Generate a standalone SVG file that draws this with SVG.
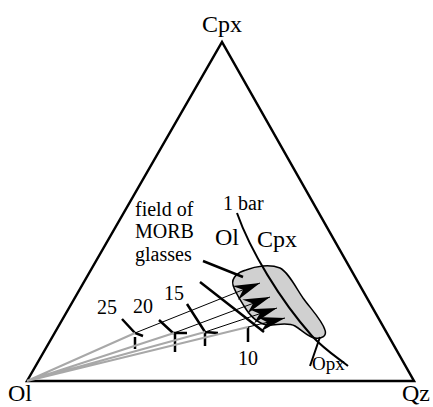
<svg xmlns="http://www.w3.org/2000/svg" width="433" height="407" viewBox="0 0 433 407">
<style>
text{font-family:"Liberation Serif","Times New Roman",serif;fill:#000}
.lbl{font-size:24px}
.txt{font-size:20px}
.num{font-size:20px}
.thick{fill:none;stroke:#000;stroke-width:2.5;stroke-linecap:butt}
.thin{fill:none;stroke:#000;stroke-width:1;marker-end:url(#ah)}
.gray{fill:none;stroke:#a8a8a8;stroke-width:2}
.tick{fill:none;stroke:#000;stroke-width:2.5}
</style>
<defs>
<marker id="ah" markerUnits="userSpaceOnUse" orient="auto" refX="0" refY="0" markerWidth="30" markerHeight="20" viewBox="-26 -9 28 18" overflow="visible">
<path d="M0,0 L-25,-7 L-17,0 L-25,7 Z" fill="#000"/>
</marker>
</defs>
<g id="triangle">
<path class="thick" d="M27,381 L222,42 L414,381 Z" stroke-linejoin="miter"/>
</g>
<g id="corner-labels">
<text class="lbl" x="222" y="32" text-anchor="middle">Cpx</text>
<text class="lbl" x="20" y="401" text-anchor="middle">Ol</text>
<text class="lbl" x="402" y="401">Qz</text>
</g>
<g id="morb-field">
<path d="M233,285 C231,278 238,272 246,270 C256,266 270,264 280,268 C288,272 295,286 303,298 C310,308 322,320 325,330 C327,336 322,339 315,338 C308,337 302,330 295,326 C288,322 278,325 268,325 C258,324 250,316 244,306 C239,298 235,292 233,285 Z" fill="#d0d0d0" stroke="#000" stroke-width="1.5"/>
</g>
<g id="cotectic">
<path d="M237,213 C250,250 280,300 312,336 C325,350 338,358 348,366" fill="none" stroke="#000" stroke-width="2"/>
<path d="M320,337 L310,366" fill="none" stroke="#000" stroke-width="2"/>
</g>
<g id="labels">
<text class="txt" x="223" y="210">1 bar</text>
<text class="lbl" x="215" y="245">Ol</text>
<text class="lbl" x="257" y="247">Cpx</text>
<text class="txt" x="135" y="215.5">field of</text>
<text class="txt" x="135" y="238">MORB</text>
<text class="txt" x="135" y="260.5">glasses</text>
<text x="312" y="370" style="font-size:19px">Opx</text>
<text class="num" x="107" y="314" text-anchor="middle">25</text>
<text class="num" x="143" y="313" text-anchor="middle">20</text>
<text class="num" x="174" y="300" text-anchor="middle">15</text>
<text class="num" x="248" y="365" text-anchor="middle">10</text>
</g>
<g id="connectors">
<path d="M203,261 L243,277" fill="none" stroke="#000" stroke-width="2.5"/>
<path class="tick" d="M122,319 L135,333 L143,336 M135,337 L135,349"/>
<path class="tick" d="M159,320 L173,333 L187,333 M175,333 L175,352"/>
<path class="tick" d="M187,304 L205,332 L218,333 M205,333 L205,346"/>
<path class="tick" d="M200,282 L264,332 M248,327 L248,342"/>
<path class="thin" d="M135,333 L260,283"/>
<path class="thin" d="M174,333 L270,297"/>
<path class="thin" d="M205,332 L277,308"/>
<path class="thin" d="M248,327 L285,318"/>
<path class="gray" d="M27,381 L135,333 M27,381 L174,333 M27,381 L205,332 M27,381 L248,327"/>
</g>
</svg>
